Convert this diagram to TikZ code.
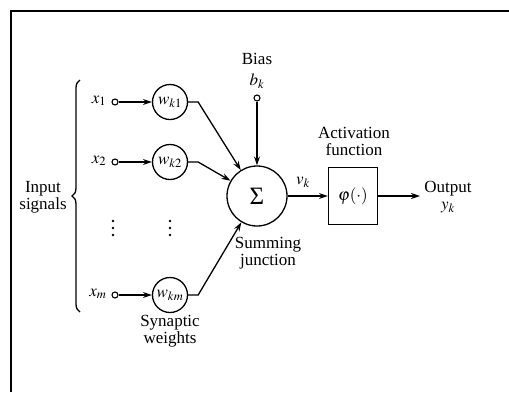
\documentclass[tikz,border=0pt]{standalone}
\usepackage{mathptmx}
\usepackage{fontspec}
\setmainfont{Liberation Serif}
\usetikzlibrary{arrows.meta,decorations.pathreplacing}
\tikzset{
  wire/.style={line width=1.3pt},
  arr/.style={wire,-{Stealth[length=9pt,width=6pt]}},
  port/.style={circle,draw,line width=1.1pt,inner sep=0pt,minimum size=6pt},
  weight/.style={circle,draw,line width=1.3pt,inner sep=0pt,minimum size=35pt},
  lbl/.style={inner sep=0pt,align=center},
  dot/.style={circle,fill,inner sep=0pt,minimum size=2.6pt},
}
\begin{document}
\begin{tikzpicture}[x=1pt,y=-1pt,font=\fontsize{17}{20}\selectfont]
\useasboundingbox (0,0) rectangle (509,392);
\draw[line width=2pt] (11,392) -- (11,11) -- (509,11);
% brace
\draw[wire,decorate,decoration={brace,amplitude=8pt}] (80,312) -- (80,80);
\node[lbl] (insig) at (43,197) {Input\\[-3pt]signals};
% inputs
\node[lbl] (x1) at (99,101) {$x_1$};
\node[lbl] (x2) at (99,161) {$x_2$};
\node[lbl] (xm) at (98,294) {$x_m$};
\node[port] (i1) at (115,102) {};
\node[port] (i2) at (115,162) {};
\node[port] (im) at (115,295) {};
\node[weight] (w1) at (170,102) {$w_{k1}$};
\node[weight] (w2) at (170,162) {$w_{k2}$};
\node[weight] (wm) at (170,295) {$w_{km}$};
\foreach \xx/\nm in {113/a,170/b}{
  \node[dot] (\nm1) at (\xx,221) {};
  \node[dot] (\nm2) at (\xx,228) {};
  \node[dot] (\nm3) at (\xx,235) {};
}
\node[lbl] (syn) at (170,331) {Synaptic\\[-3pt]weights};
% summing junction
\node[circle,draw,line width=1.3pt,minimum size=60pt,inner sep=0pt] (sum) at (257,196) {\fontsize{25}{28}\selectfont Σ};
\node[lbl] (sj) at (268,253) {Summing\\[-3pt]junction};
\node[lbl] (bias) at (257,59) {Bias};
\node[lbl] (bk) at (257,81) {$b_k$};
\node[port] (bp) at (257,98) {};
% activation
\node[rectangle,draw,line width=1.3pt,minimum width=49pt,minimum height=57pt,inner sep=0pt] (act) at (353,196) {$\varphi(\cdot)$};
\node[lbl] (actl) at (354,141) {Activation\\[-3pt]function};
\node[lbl] (vk) at (303,182) {$v_k$};
\coordinate (outend) at (420,196);
\node[lbl] (outl) at (448,197) {Output\\[-3pt]$y_k$};
% connectors
\draw[arr] (i1) -- (w1);
\draw[arr] (i2) -- (w2);
\draw[arr] (im) -- (wm);
\draw[arr] (w1.east) -- ++(10,0) -- (sum);
\draw[arr] (w2.east) -- ++(10,0) -- (sum);
\draw[arr] (wm.east) -- ++(10,0) -- (sum);
\draw[arr] (bp) -- (sum);
\draw[arr] (sum) -- (act);
\draw[arr] (act) -- (outend);
\end{tikzpicture}
\end{document}
